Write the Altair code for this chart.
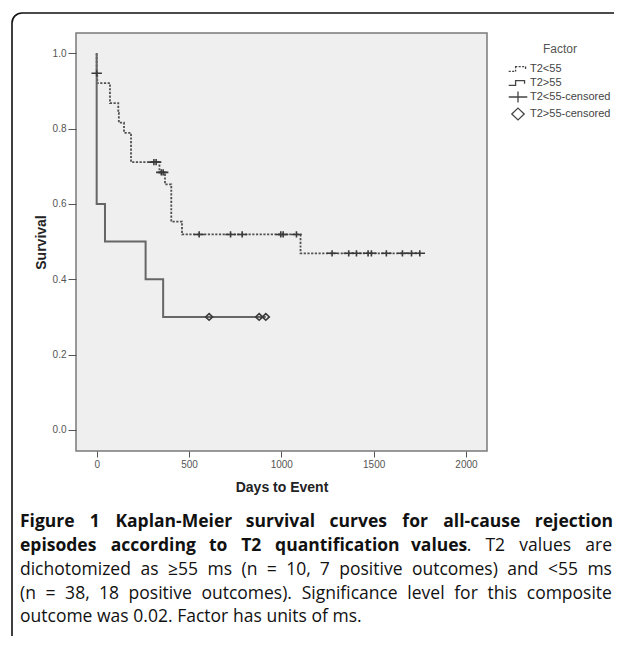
import altair as alt
import pandas as pd

# ---- data ----
low_days = [0, 0, 3, 72, 117, 120, 148, 186, 340, 370, 404, 462, 1104, 1750]
low_surv = [1.0, 0.947, 0.921, 0.868, 0.842, 0.816, 0.789, 0.711, 0.684, 0.652, 0.553, 0.519, 0.469, 0.469]

high_days = [0, 0, 45, 265, 360, 916]
high_surv = [1.0, 0.6, 0.5, 0.4, 0.3, 0.3]

low_cens_days = [0, 310, 322, 350, 360, 555, 725, 788, 997, 1010, 1082,
                 1275, 1365, 1407, 1470, 1488, 1569, 1656, 1705, 1750]
low_cens_surv = [0.947, 0.711, 0.711, 0.684, 0.684, 0.519, 0.519, 0.519, 0.519, 0.519, 0.519,
                 0.469, 0.469, 0.469, 0.469, 0.469, 0.469, 0.469, 0.469, 0.469]

high_cens_days = [609, 880, 916]
high_cens_surv = [0.3, 0.3, 0.3]

groups = ["T2<55", "T2>55", "T2<55-censored", "T2>55-censored"]
x_ticks = [0, 500, 1000, 1500, 2000]
y_ticks = [0.0, 0.2, 0.4, 0.6, 0.8, 1.0]

# caption lines: list of (segment text, bold)
caption_lines = [
    [("Figure 1 Kaplan-Meier survival curves for all-cause rejection", True)],
    [("episodes according to T2 quantification values", True), (". T2 values are", False)],
    [("dichotomized as \u226555 ms (n = 10, 7 positive outcomes) and <55 ms", False)],
    [("(n = 38, 18 positive outcomes). Significance level for this composite", False)],
    [("outcome was 0.02. Factor has units of ms.", False)],
]
caption_justify = [True, True, True, True, False]

# ---- tables ----
lines = pd.DataFrame({
    "day": low_days + high_days,
    "surv": low_surv + high_surv,
    "group": ["T2<55"] * len(low_days) + ["T2>55"] * len(high_days),
    "idx": list(range(len(low_days))) + list(range(len(high_days))),
})
cens = pd.DataFrame({
    "day": low_cens_days + high_cens_days,
    "surv": low_cens_surv + high_cens_surv,
    "group": ["T2<55-censored"] * len(low_cens_days) + ["T2>55-censored"] * len(high_cens_days),
})

# legend / marker symbols (unit-square SVG paths)
dashed_step = ("M-1.35,0.35H-1.05M-0.85,0.35H-0.55M-0.35,0.35V0.1M-0.35,-0.1V-0.35H-0.1"
               "M0.1,-0.35H0.4M0.6,-0.35H0.9M1.1,-0.35V0")
solid_step = "M-1.35,0.35H-0.35V-0.35H0.95V0.1"
plus_path = "M-1.35,0H1.35M0,-0.8V0.8"
diamond_path = "M0,-0.85L0.9,0L0,0.85L-0.9,0Z"

xscale = alt.Scale(domain=[-112, 2114], nice=False, zero=False)
yscale = alt.Scale(domain=[-0.056, 1.054], nice=False, zero=False)

FONT = "Liberation Sans"

xaxis = alt.Axis(values=x_ticks, format="d", title="Days to Event", tickSize=6, labelPadding=2,
                 domain=False, grid=False, labelFont=FONT, labelFontSize=10, labelColor="#555",
                 tickColor="#555", titleFont=FONT, titleFontSize=14, titleFontWeight="bold",
                 titleColor="#222", titlePadding=11)
yaxis = alt.Axis(values=y_ticks, format=".1f", title="Survival", tickSize=8, labelPadding=2,
                 domain=False, grid=False, labelFont=FONT, labelFontSize=10, labelColor="#555",
                 tickColor="#555", titleFont=FONT, titleFontSize=14, titleFontWeight="bold",
                 titleColor="#222", titlePadding=4)

low_line = alt.Chart(lines[lines.group == "T2<55"]).mark_line(
    interpolate="step-after", color="#505050", strokeWidth=1.8, strokeDash=[2.2, 1.5]
).encode(
    x=alt.X("day:Q", scale=xscale, axis=xaxis),
    y=alt.Y("surv:Q", scale=yscale, axis=yaxis),
    order="idx:Q",
)
high_line = alt.Chart(lines[lines.group == "T2>55"]).mark_line(
    interpolate="step-after", color="#666", strokeWidth=2
).encode(
    x=alt.X("day:Q", scale=xscale, axis=None),
    y=alt.Y("surv:Q", scale=yscale, axis=None),
    order="idx:Q",
)

points = alt.Chart(cens).mark_point(filled=False, color="#3a3a3a", size=60, strokeWidth=1.6, opacity=1).encode(
    x=alt.X("day:Q", scale=xscale, axis=None),
    y=alt.Y("surv:Q", scale=yscale, axis=None),
    shape=alt.Shape(
        "group:N",
        scale=alt.Scale(domain=groups, range=[dashed_step, solid_step, plus_path, diamond_path]),
        legend=alt.Legend(
            orient="none", legendX=434, legendY=11, title="Factor", titleAnchor="middle",
            titleFont=FONT, titleFontSize=12, titleFontWeight="normal", titleColor="#555",
            titlePadding=5, labelFont=FONT, labelFontSize=11, labelColor="#444", labelOffset=4,
            symbolSize=190, symbolStrokeWidth=1.3, symbolStrokeColor="#444",
            symbolFillColor="transparent", rowPadding=-1, padding=0,
        ),
    ),
)

# figure box (rounded frame of the figure panel)
frame = alt.Chart(pd.DataFrame({"a": [0]})).mark_rect(
    fill="transparent", stroke="#111", strokeWidth=1.6, cornerRadius=10
).encode(x=alt.value(-64), x2=alt.value(700), y=alt.value(-20), y2=alt.value(620))

# ---- caption: approximate Open Sans advance widths (em/1000) for justification ----
REG = dict(zip(" abcdefghijklmnopqrstuvwxyz0123456789.,()=<\u2265-",
               [260, 556, 613, 476, 613, 561, 339, 548, 614, 253, 253, 525, 253, 930, 614, 604, 613,
                613, 408, 477, 353, 614, 501, 778, 520, 502, 477] + [572] * 10 +
               [266, 240, 295, 295, 572, 572, 572, 322]))
REG.update({"T": 560, "S": 547, "F": 535, "K": 586, "M": 915})
BOLD = dict(zip(" abcdefghijklmnopqrstuvwxyz0123456789.,()=<-",
                [260, 590, 633, 513, 633, 596, 382, 565, 640, 293, 293, 617, 293, 969, 640, 615, 633,
                 633, 449, 504, 416, 640, 564, 855, 560, 564, 490] + [572] * 10 +
                [290, 280, 330, 330, 572, 572, 322]))
BOLD.update({"T": 561, "S": 560, "F": 555, "K": 617, "M": 942})

CAP_FONT = "Open Sans"
CAP_SIZE = 17.5
CAP_LEFT = -56           # relative to plot origin (page x = 20)
CAP_WIDTH = 592
CAP_Y = [489, 513, 537, 561, 584]


def text_width(s, bold):
    table = BOLD if bold else REG
    return sum(table.get(ch, 560) for ch in s) * CAP_SIZE / 1000.0


words = []
for li, (segs, just) in enumerate(zip(caption_lines, caption_justify)):
    toks = []  # (word, bold, gap_before)
    for si, (seg, bold) in enumerate(segs):
        parts = seg.split(" ")
        for pi, w in enumerate(parts):
            if w == "":
                continue
            gap = not (pi == 0)
            toks.append((w, bold, gap))
    widths = [text_width(w, b) for w, b, _ in toks]
    ngaps = sum(1 for t in toks if t[2])
    space = REG[" "] * CAP_SIZE / 1000.0
    if just and ngaps:
        space = (CAP_WIDTH - sum(widths)) / ngaps
    x = CAP_LEFT
    for (w, b, g), wd in zip(toks, widths):
        if g:
            x += space
        words.append({"w": w, "x": x, "y": CAP_Y[li], "bold": b})
        x += wd
words = pd.DataFrame(words)

cap_bold = alt.Chart(words[words.bold]).mark_text(
    font=CAP_FONT, fontSize=CAP_SIZE, fontWeight="bold", align="left", baseline="middle", color="#111"
).encode(text="w:N", x=alt.X("x:Q", scale=None, axis=None), y=alt.Y("y:Q", scale=None, axis=None))
cap_reg = alt.Chart(words[~words.bold]).mark_text(
    font=CAP_FONT, fontSize=CAP_SIZE, fontWeight="normal", align="left", baseline="middle", color="#111"
).encode(text="w:N", x=alt.X("x:Q", scale=None, axis=None), y=alt.Y("y:Q", scale=None, axis=None))

chart = alt.layer(frame, low_line, high_line, points, cap_bold, cap_reg).resolve_scale(
    x="independent", y="independent"
).properties(
    width=411, height=418,
    autosize=alt.AutoSizeParams(type="none"),
    padding={"left": 68, "top": 25, "right": 127, "bottom": 185},
    background="white",
).configure_view(fill="#efefef", stroke="#7a7a7a", strokeWidth=1.5)

chart.save("out.html", embed_options={"renderer": "svg", "actions": False})
